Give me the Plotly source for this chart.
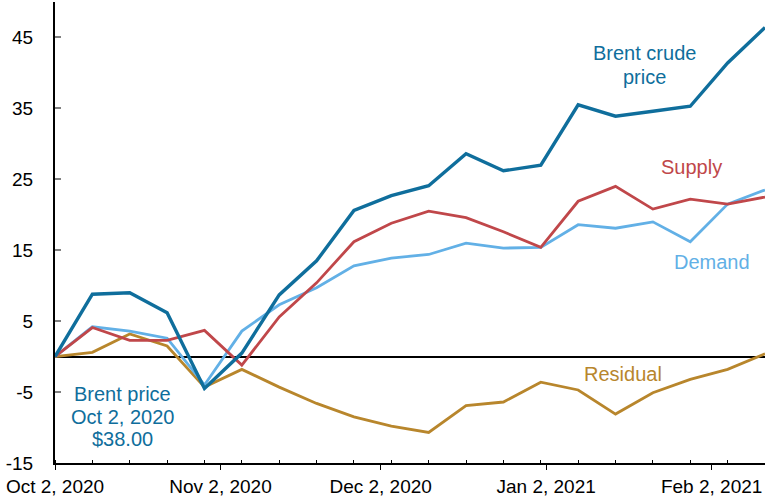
import plotly.graph_objects as go

dates = ["2020-10-02", "2020-10-09", "2020-10-16", "2020-10-23", "2020-10-30",
         "2020-11-06", "2020-11-13", "2020-11-20", "2020-11-27", "2020-12-04",
         "2020-12-11", "2020-12-18", "2020-12-25", "2021-01-01", "2021-01-08",
         "2021-01-15", "2021-01-22", "2021-01-29", "2021-02-05", "2021-02-12"]

brent = [0, 8.8, 9.0, 6.2, -4.5, 0.5, 8.7, 13.5, 20.6, 22.7,
         24.1, 28.6, 26.2, 27.0, 35.5, 33.9, 34.6, 35.3, 41.4, 46.4]
supply = [0, 4.1, 2.3, 2.3, 3.7, -1.2, 5.6, 10.4, 16.2, 18.8,
          20.5, 19.6, 17.6, 15.4, 21.9, 24.0, 20.8, 22.2, 21.5, 22.5]
demand = [0, 4.2, 3.6, 2.6, -4.0, 3.6, 7.3, 9.7, 12.8, 13.9,
          14.4, 16.0, 15.3, 15.4, 18.6, 18.1, 19.0, 16.2, 21.5, 23.5]
residual = [0, 0.6, 3.2, 1.5, -4.3, -1.8, -4.3, -6.6, -8.5, -9.8,
            -10.7, -6.9, -6.4, -3.6, -4.7, -8.1, -5.1, -3.2, -1.8, 0.4]

tick_dates = ["2020-10-02", "2020-11-02", "2020-12-02", "2021-01-02", "2021-02-02"]
tick_labels = ["Oct 2, 2020", "Nov 2, 2020", "Dec 2, 2020", "Jan 2, 2021", "Feb 2, 2021"]

y_tick_vals = [-15, -5, 5, 15, 25, 35, 45]
y_tick_labels = ["-15", "-5", "5", "15", "25", "35", "45"]

C_BRENT = "#0f6e9c"
C_SUPPLY = "#c0474a"
C_DEMAND = "#62b0e6"
C_RESID = "#b8862c"

FONT = "Arial, Liberation Sans, sans-serif"

fig = go.Figure()
fig.add_trace(go.Scatter(x=dates, y=residual, mode="lines", line=dict(color=C_RESID, width=2.8)))
fig.add_trace(go.Scatter(x=dates, y=demand, mode="lines", line=dict(color=C_DEMAND, width=2.8)))
fig.add_trace(go.Scatter(x=dates, y=supply, mode="lines", line=dict(color=C_SUPPLY, width=2.8)))
fig.add_trace(go.Scatter(x=dates, y=brent, mode="lines", line=dict(color=C_BRENT, width=3.4)))

annots = [
    ("Brent crude", "2021-01-20 12:00", 42.8, C_BRENT),
    ("price", "2021-01-20 12:00", 39.4, C_BRENT),
    ("Supply", "2021-01-29 07:00", 26.7, C_SUPPLY),
    ("Demand", "2021-02-02 02:00", 13.3, C_DEMAND),
    ("Residual", "2021-01-16 10:00", -2.4, C_RESID),
    ("Brent price", "2020-10-14 17:00", -5.2, C_BRENT),
    ("Oct 2, 2020", "2020-10-14 17:00", -8.5, C_BRENT),
    ("$38.00", "2020-10-14 17:00", -11.6, C_BRENT),
]
for txt, x, y, c in annots:
    fig.add_annotation(x=x, y=y, text=txt, showarrow=False, xanchor="center", yanchor="middle",
                       font=dict(family=FONT, size=20, color=c))

fig.update_layout(
    width=765, height=496,
    margin=dict(l=55, r=0, t=2, b=33, autoexpand=False),
    paper_bgcolor="white", plot_bgcolor="white",
    showlegend=False,
    font=dict(family=FONT, size=19, color="black"),
)
fig.update_xaxes(
    type="date", range=["2020-10-02", "2021-02-12"], automargin=False,
    tickvals=tick_dates, ticktext=tick_labels,
    ticks="outside", ticklen=5, tickcolor="black", tickwidth=1,
    showline=True, linecolor="black", linewidth=2,
    showgrid=False, zeroline=False,
    tickfont=dict(family=FONT, size=19, color="black"),
    minor=dict(dtick=7 * 86400000, tick0="2020-10-02", ticks="inside", ticklen=3,
               tickcolor="black", tickwidth=1, showgrid=False),
)
fig.update_yaxes(
    range=[-15, 50], automargin=False,
    tickvals=y_tick_vals, ticktext=y_tick_labels,
    ticks="inside", ticklen=6, tickcolor="#808080", tickwidth=1.5,
    showline=True, linecolor="black", linewidth=2,
    showgrid=False, zeroline=True, zerolinecolor="black", zerolinewidth=2,
    ticklabelstandoff=16,
    tickfont=dict(family=FONT, size=19, color="black"),
)

fig.write_html(
    "out.html",
    config={"displayModeBar": False},
    post_script="document.body.style.margin='0';document.body.style.overflow='hidden';",
)
